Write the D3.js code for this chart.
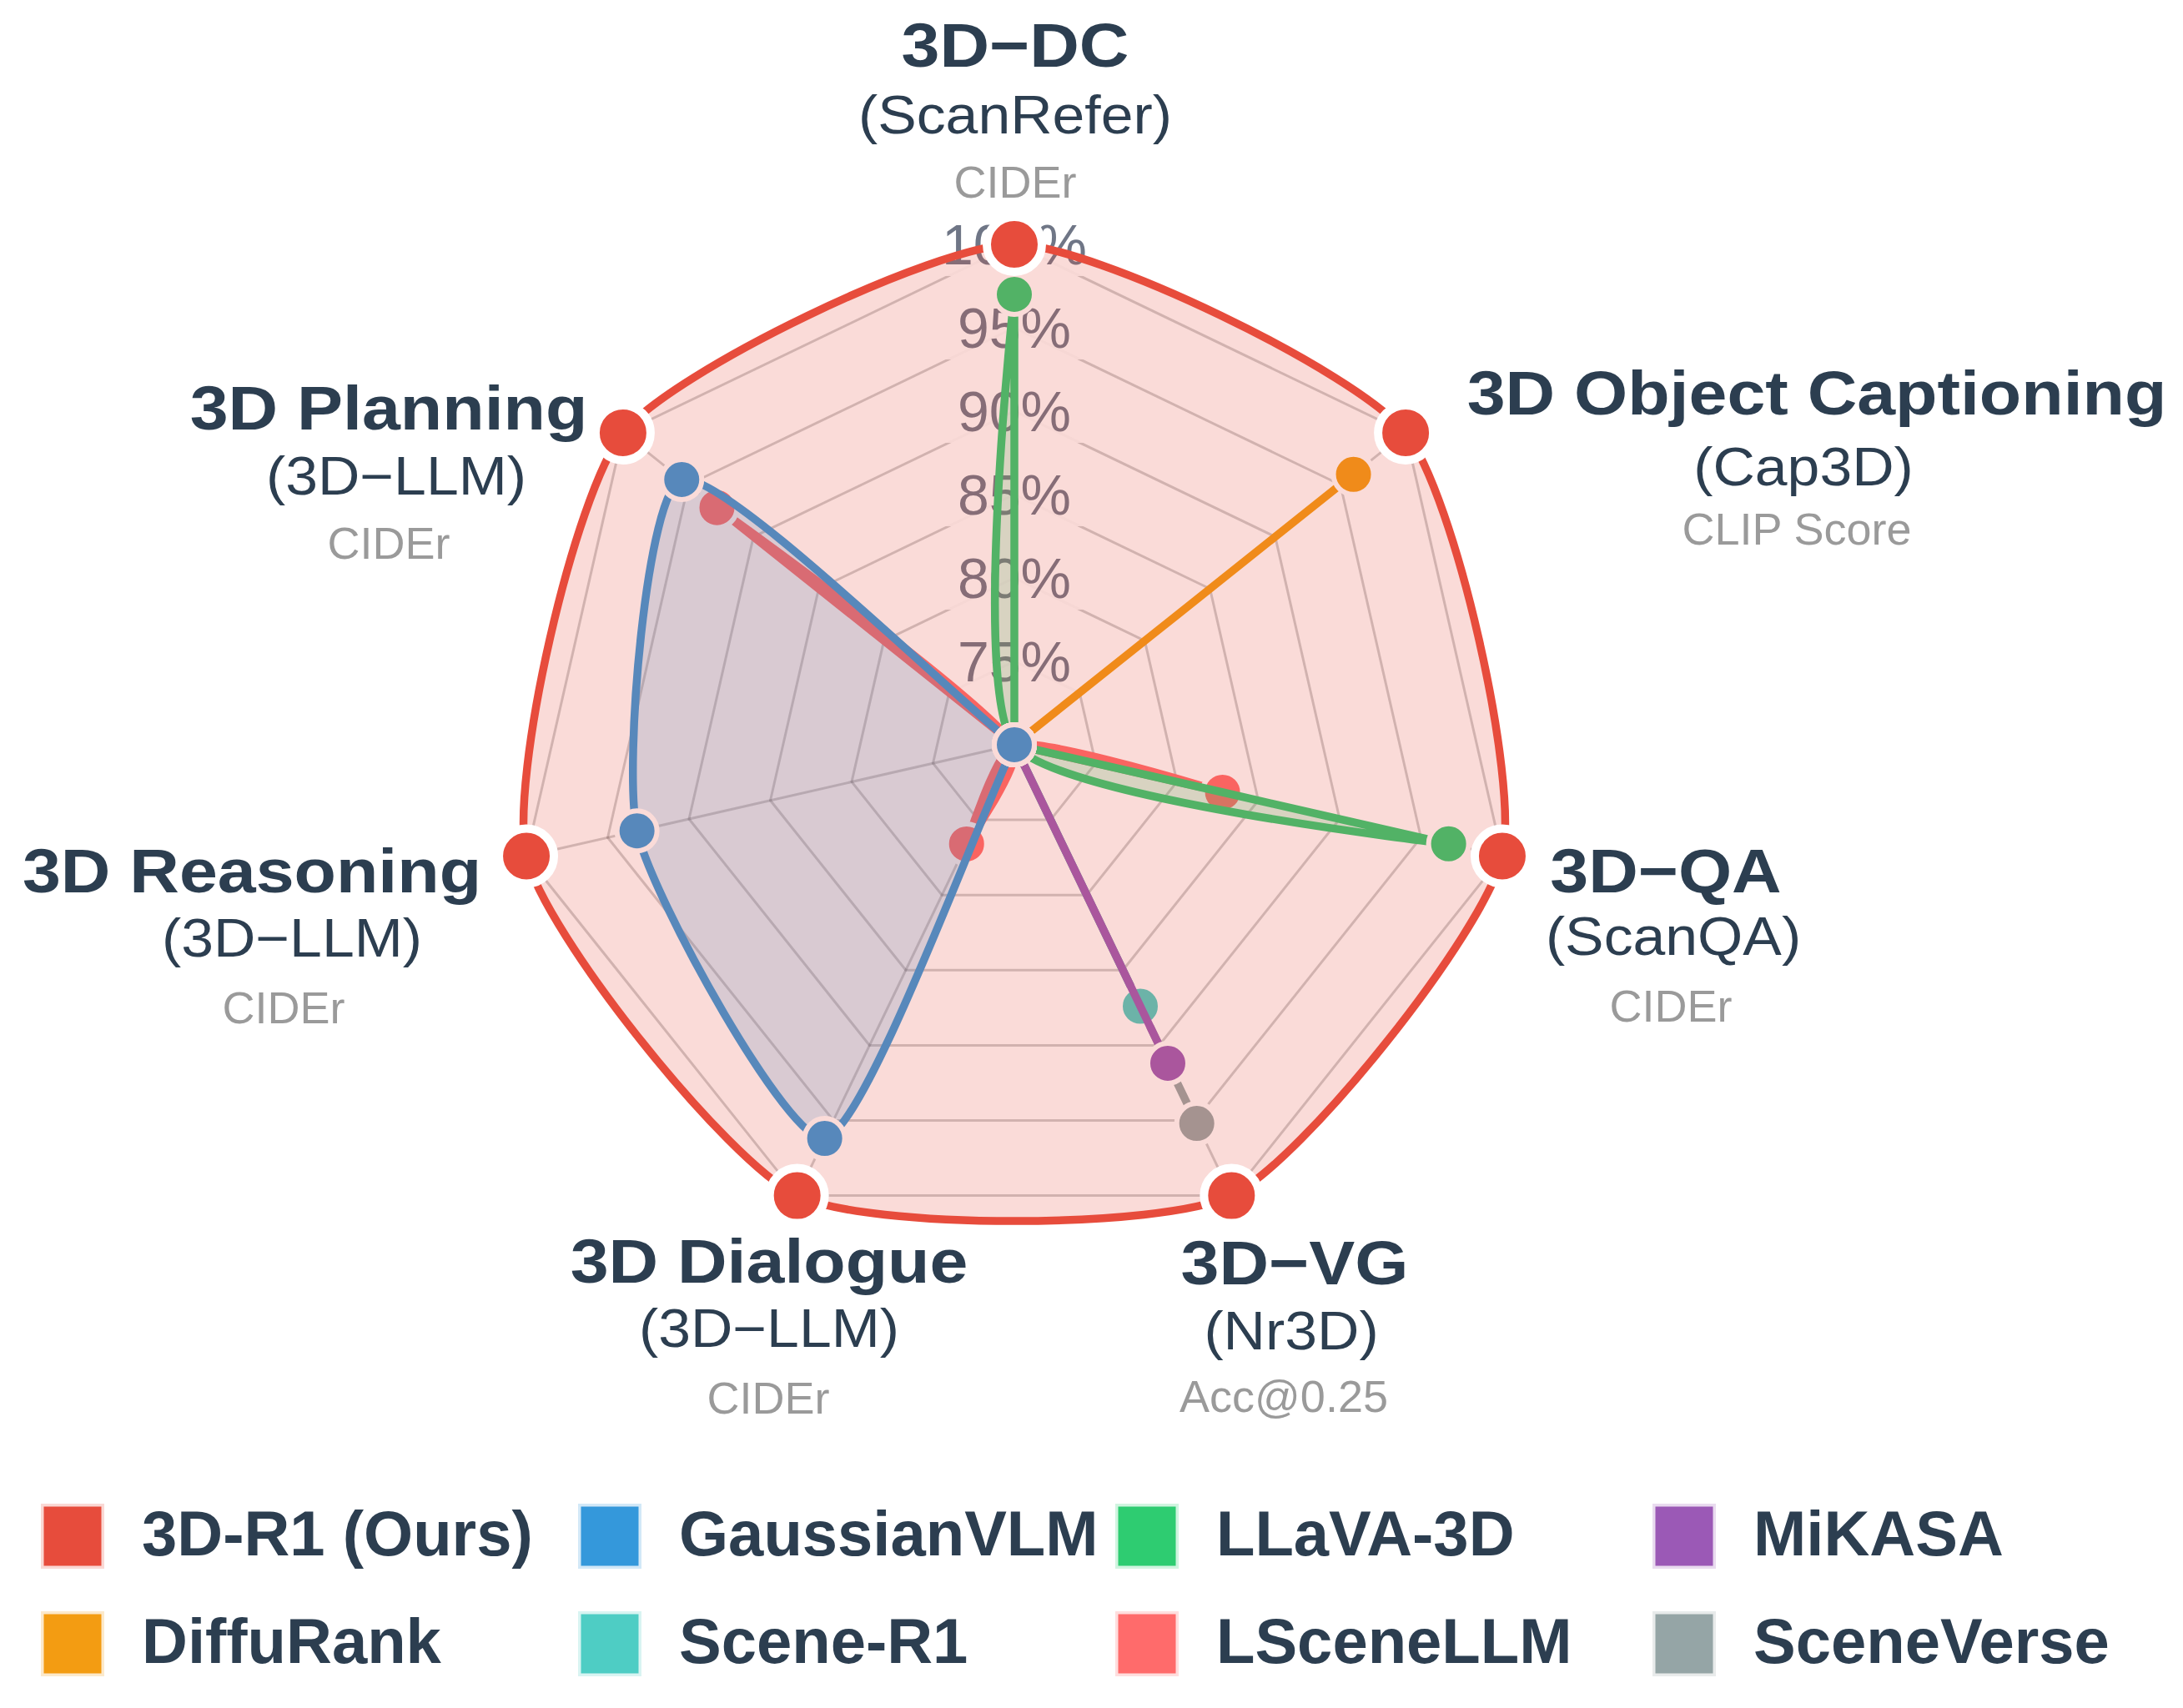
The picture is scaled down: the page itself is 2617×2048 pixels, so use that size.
<!DOCTYPE html>
<html><head><meta charset="utf-8">
<script src="https://cdn.jsdelivr.net/npm/d3@7"></script>
<style>html,body{margin:0;padding:0;background:#fff;} svg{display:block;}</style>
</head><body>
<svg id="chart" width="2617" height="2048"></svg>
<script>
// ---------- data ----------
const axes = ["3D\u2212DC","3D Object Captioning","3D\u2212QA","3D\u2212VG","3D Dialogue","3D Reasoning","3D Planning"];
const benchmarks = ["(ScanRefer)","(Cap3D)","(ScanQA)","(Nr3D)","(3D\u2212LLM)","(3D\u2212LLM)","(3D\u2212LLM)"];
const metrics = ["CIDEr","CLIP Score","CIDEr","Acc@0.25","CIDEr","CIDEr","CIDEr"];

const seriesNames = ["3D-R1 (Ours)","GaussianVLM","LLaVA-3D","MiKASA","DiffuRank","Scene-R1","LSceneLLM","SceneVerse"];
const seriesColors = ["#e74c3c","#3498db","#2ecc71","#9b59b6","#f39c12","#4ecdc4","#ff6b6b","#95a5a6"];

// values per axis (order of `axes`); 0 = not reported (drawn at centre)
const r1Values         = [100,100,100,100,100,100,100];
const gaussianVLMValues= [0,0,0,0,96.2,93.2,95.5];
const llava3DValues    = [97.0,0,96.7,0,0,0,0];
const mikasaValues     = [0,0,0,91.2,0,0,0];
const diffuRankValues  = [0,96.0,0,0,0,0,0];
const sceneR1Values    = [0,0,0,87.4,0,0,0];
const lsceneLLMValues  = [0,0,82.8,0,76.6,0,92.8];
const sceneVerseValues = [0,0,0,95.2,0,0,0];
const seriesValues = [r1Values,gaussianVLMValues,llava3DValues,mikasaValues,diffuRankValues,sceneR1Values,lsceneLLMValues,sceneVerseValues];

const tickValues = [75,80,85,90,95,100];
const tickLabels = ["75%","80%","85%","90%","95%","100%"];

// ---------- layout ----------
const W = 2617, H = 2048;
const cx = 1216, cy = 893, R = 600;
const FONT = "'Liberation Sans', Arial, Helvetica, sans-serif";
// label offsets from centre: [titleDx,titleDy, subDx,subDy, metricDx,metricDy]
const labelLayout = [
  [1,-813, 1,-733, 1,-656],
  [962,-396, 946,-311, 938,-240],
  [781,177, 790,252, 787,332],
  [336,647, 332,725, 323,800],
  [-294,645, -294,722, -295,802],
  [-914,177, -866,254, -876,334],
  [-750,-378, -741,-300, -750,-223]
];

const svg = d3.select("#chart");
svg.append("rect").attr("width",W).attr("height",H).attr("fill","#fff");
const g = svg.append("g").attr("transform",`translate(${cx},${cy})`);

const rScale = d3.scaleLinear().domain([70,100]).range([0,R]).clamp(true);
const aScale = d3.scaleLinear().domain([0,axes.length]).range([0,2*Math.PI]);

// Chart.js-like closed spline
function splineClosed(tension){
  return function(context){
    let pts=[];
    return {
      areaStart(){}, areaEnd(){},
      lineStart(){pts=[];},
      point(x,y){pts.push([+x,+y]);},
      lineEnd(){
        const n=pts.length;
        const cp=pts.map((p,i)=>{
          const a=pts[(i-1+n)%n], b=pts[(i+1)%n];
          const d01=Math.hypot(p[0]-a[0],p[1]-a[1]), d12=Math.hypot(b[0]-p[0],b[1]-p[1]);
          const sum=d01+d12;
          const s01=sum?d01/sum:0, s12=sum?d12/sum:0;
          const fa=tension*s01, fb=tension*s12;
          const vx=b[0]-a[0], vy=b[1]-a[1];
          return {px:p[0]-fa*vx, py:p[1]-fa*vy, nx:p[0]+fb*vx, ny:p[1]+fb*vy};
        });
        context.moveTo(pts[0][0],pts[0][1]);
        for(let i=0;i<n;i++){
          const j=(i+1)%n;
          context.bezierCurveTo(cp[i].nx,cp[i].ny,cp[j].px,cp[j].py,pts[j][0],pts[j][1]);
        }
        context.closePath();
      }
    };
  };
}

// ---------- grid ----------
const gridColor = "rgba(0,0,0,0.2)";
const ringLine = d3.lineRadial().angle((d,i)=>aScale(i)).radius(d=>rScale(d)).curve(d3.curveLinearClosed);
tickValues.forEach(v=>{
  g.append("path").attr("d",ringLine(axes.map(()=>v)))
    .attr("fill","none").attr("stroke",gridColor).attr("stroke-width",3);
});
axes.forEach((a,i)=>{
  const p = d3.pointRadial(aScale(i), rScale(100));
  g.append("line").attr("x1",0).attr("y1",0).attr("x2",p[0]).attr("y2",p[1])
    .attr("stroke",gridColor).attr("stroke-width",3);
});

// tick labels with backdrop
tickValues.forEach((v,i)=>{
  const y = -rScale(v);
  const t = g.append("text").attr("x",0).attr("y",y+24)
    .attr("text-anchor","middle").attr("font-family",FONT).attr("font-size",68)
    .attr("fill","#6f7686").text(tickLabels[i]);
  const bb = t.node().getBBox();
  g.insert("rect", "text").attr("x",bb.x-20).attr("y",y-38).attr("width",bb.width+40).attr("height",76)
    .attr("fill","rgba(255,255,255,0.9)");
});

// ---------- datasets (drawn in reverse: first dataset on top) ----------
const radial = d3.lineRadial().angle((d,i)=>aScale(i)).radius(d=>rScale(d)).curve(splineClosed(0.2));
for(let s=seriesValues.length-1;s>=0;s--){
  const vals = seriesValues[s], col = seriesColors[s];
  const sg = g.append("g");
  sg.append("path").attr("d",radial(vals)).attr("fill",col).attr("fill-opacity",0.2).attr("stroke","none");
  sg.append("path").attr("d",radial(vals)).attr("fill","none").attr("stroke",col)
    .attr("stroke-width",9.5).attr("stroke-linejoin","round");
  vals.forEach((v,i)=>{
    const p = d3.pointRadial(aScale(i), rScale(v));
    sg.append("circle").attr("cx",p[0]).attr("cy",p[1])
      .attr("r", s===0?33:24).attr("fill",col)
      .attr("stroke","#fff").attr("stroke-width", s===0?10:6);
  });
}

// ---------- axis labels ----------
axes.forEach((name,i)=>{
  const L = labelLayout[i];
  g.append("g").attr("transform",`translate(${L[0]},${L[1]})`)
    .append("text").attr("transform","scale(1.1,1)").attr("text-anchor","middle")
    .attr("font-family",FONT).attr("font-weight","bold").attr("font-size",75)
    .attr("fill","#2c3e50").text(name);
  g.append("g").attr("transform",`translate(${L[2]},${L[3]})`)
    .append("text").attr("transform","scale(1.09,1)").attr("text-anchor","middle")
    .attr("font-family",FONT).attr("font-size",64)
    .attr("fill","#2c3e50").text(benchmarks[i]);
  g.append("text").attr("x",L[4]).attr("y",L[5]).attr("text-anchor","middle")
    .attr("font-family",FONT).attr("font-size",54)
    .attr("fill","#9a9a9a").text(metrics[i]);
});

// ---------- legend ----------
const lg = svg.append("g");
seriesNames.forEach((n,i)=>{
  const col = i%4, row = Math.floor(i/4);
  const x = 49 + col*644, y = 1803 + row*129;
  lg.append("rect").attr("x",x).attr("y",y).attr("width",76).attr("height",78)
    .attr("fill",seriesColors[i]).attr("fill-opacity",0.22);
  lg.append("rect").attr("x",x+3.5).attr("y",y+3.5).attr("width",69).attr("height",71)
    .attr("fill",seriesColors[i]);
  lg.append("text").attr("x",x+121).attr("y",y+62)
    .attr("font-family",FONT).attr("font-weight","bold").attr("font-size",76)
    .attr("fill","#2c3e50").text(n);
});
</script>
</body></html>
